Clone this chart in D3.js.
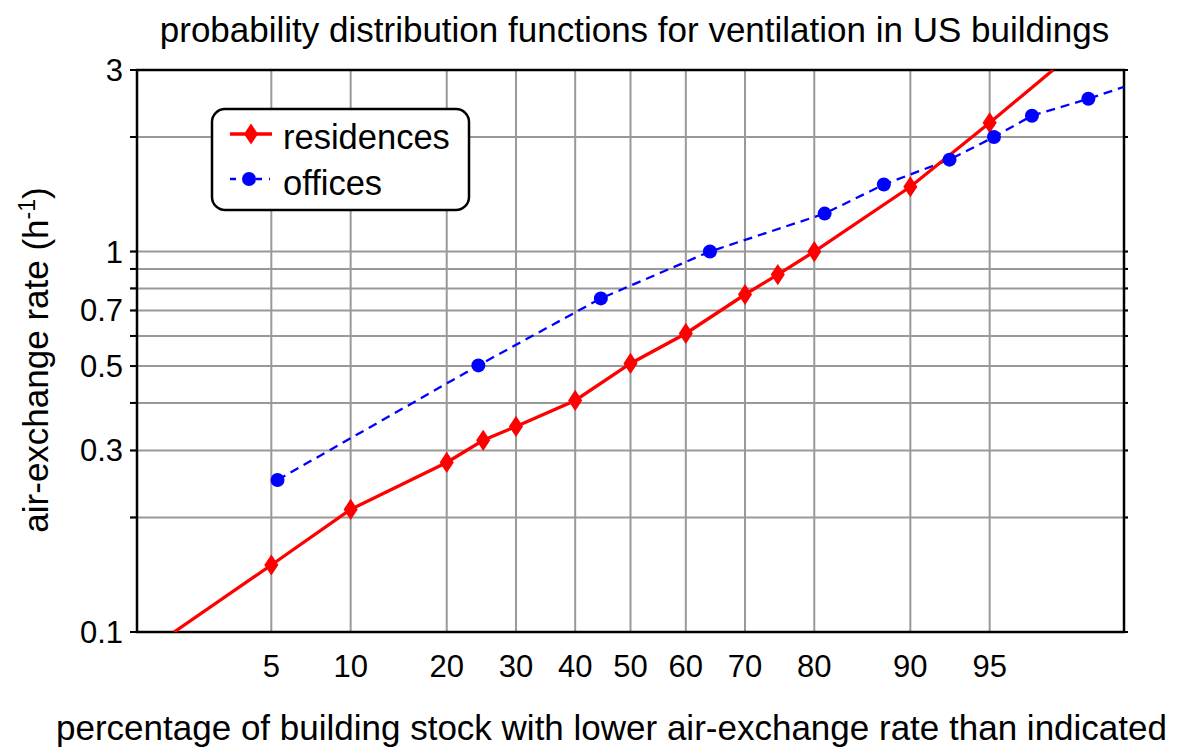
<!DOCTYPE html>
<html><head><meta charset="utf-8">
<script src="https://cdn.jsdelivr.net/npm/d3@7"></script>
<style>body{margin:0;background:#fff}svg{display:block}text{font-family:"Liberation Sans",Arial,sans-serif;fill:#000}</style>
</head><body>
<svg id="c" width="1178" height="747"></svg>
<script>
// ---- data ----
const xTicks = [5,10,20,30,40,50,60,70,80,90,95];
const yGrid = [0.2,0.3,0.4,0.5,0.6,0.7,0.8,0.9,1,2];
const yLabels = [0.1,0.3,0.5,0.7,1,3];
const resP = [5,10,20,25,30,40,50,60,70,75,80,90,95];
const resV = [0.150,0.210,0.279,0.319,0.347,0.406,0.508,0.609,0.771,0.870,1.0,1.48,2.18];
const resLead = [1.83, 0.1];   // line extension (no marker)
const resTail = [97.35, 3.0];
const offP = [5.3,24.3,44.6,64.2,81.3,87.7,92.8,95.2,96.7,98.2];
const offV = [0.251,0.502,0.753,1.0,1.258,1.50,1.744,2.0,2.275,2.52];
const offTail = [98.81, 2.71];

// inverse normal CDF (Acklam)
function probit(p){
  const a=[-3.969683028665376e+01,2.209460984245205e+02,-2.759285104469687e+02,1.383577518672690e+02,-3.066479806614716e+01,2.506628277459239e+00];
  const b=[-5.447609879822406e+01,1.615858368580409e+02,-1.556989798598866e+02,6.680131188771972e+01,-1.328068155288572e+01];
  const c=[-7.784894002430293e-03,-3.223964580411365e-01,-2.400758277161838e+00,-2.549732539343734e+00,4.374664141464968e+00,2.938163982698783e+00];
  const d=[7.784695709041462e-03,3.224671290700398e-01,2.445134137142996e+00,3.754408661907416e+00];
  const pl=0.02425, ph=1-pl; let q,r;
  if(p<pl){q=Math.sqrt(-2*Math.log(p));return (((((c[0]*q+c[1])*q+c[2])*q+c[3])*q+c[4])*q+c[5])/((((d[0]*q+d[1])*q+d[2])*q+d[3])*q+1);}
  if(p<=ph){q=p-0.5;r=q*q;return (((((a[0]*r+a[1])*r+a[2])*r+a[3])*r+a[4])*r+a[5])*q/(((((b[0]*r+b[1])*r+b[2])*r+b[3])*r+b[4])*r+1);}
  q=Math.sqrt(-2*Math.log(1-p));return -(((((c[0]*q+c[1])*q+c[2])*q+c[3])*q+c[4])*q+c[5])/((((d[0]*q+d[1])*q+d[2])*q+d[3])*q+1);
}

const L=137,R=1124,T=70,B=632;
const xz = d3.scaleLinear().domain([-2.26,2.26]).range([L,R]);
const x = p => xz(probit(p/100));
const y = d3.scaleLog().domain([0.1,3]).range([B,T]);
const svg = d3.select("#c");

svg.append("defs").append("clipPath").attr("id","clip").append("rect").attr("x",L).attr("y",T).attr("width",R-L).attr("height",B-T);

// grid
const g = svg.append("g");
g.selectAll(".vg").data(xTicks).join("line").attr("x1",d=>x(d)).attr("x2",d=>x(d)).attr("y1",T).attr("y2",B)
  .attr("stroke","#999").attr("stroke-width",2);
g.selectAll(".hg").data(yGrid).join("line").attr("x1",L-7).attr("x2",R+4).attr("y1",d=>y(d)).attr("y2",d=>y(d))
  .attr("stroke","#999").attr("stroke-width",2);
// ticks outside (black)
g.selectAll(".tl").data([0.1,...yGrid,3]).join("line").attr("x1",L-7).attr("x2",L).attr("y1",d=>y(d)).attr("y2",d=>y(d)).attr("stroke","#000").attr("stroke-width",2);
g.selectAll(".tr").data([0.1,...yGrid,3]).join("line").attr("x1",R).attr("x2",R+4).attr("y1",d=>y(d)).attr("y2",d=>y(d)).attr("stroke","#000").attr("stroke-width",2);
// frame
svg.append("rect").attr("x",L).attr("y",T).attr("width",R-L).attr("height",B-T).attr("fill","none").attr("stroke","#000").attr("stroke-width",2.5);

// tick labels
svg.selectAll(".xl").data(xTicks).join("text").attr("x",d=>x(d)).attr("y",677).attr("text-anchor","middle").attr("font-size",31).text(d=>d);
svg.selectAll(".yl").data(yLabels).join("text").attr("x",123).attr("y",d=>y(d)+11).attr("text-anchor","end").attr("font-size",31).text(d=>d);

// lines
const line = d3.line().x(d=>x(d[0])).y(d=>y(d[1]));
const plot = svg.append("g").attr("clip-path","url(#clip)");
const resLine = [resLead, ...resP.map((p,i)=>[p,resV[i]]), resTail];
const offLine = [...offP.map((p,i)=>[p,offV[i]]), offTail];
plot.append("path").datum(offLine).attr("d",line).attr("fill","none").attr("stroke","#0000ff").attr("stroke-width",2.3).attr("stroke-dasharray","9,6");
plot.append("path").datum(resLine).attr("d",line).attr("fill","none").attr("stroke","#ff0000").attr("stroke-width",3.3);
const diamond = d3.symbol().type(d3.symbolDiamond).size(130);
svg.selectAll(".rm").data(resP.map((p,i)=>[p,resV[i]])).join("path").attr("d",diamond)
  .attr("transform",d=>`translate(${x(d[0])},${y(d[1])}) scale(1.15,1)`).attr("fill","#ff0000");
svg.selectAll(".om").data(offP.map((p,i)=>[p,offV[i]])).join("circle").attr("cx",d=>x(d[0])).attr("cy",d=>y(d[1])).attr("r",7).attr("fill","#0000ff");

// legend
const lg = svg.append("g");
lg.append("rect").attr("x",212).attr("y",109).attr("width",257).attr("height",101).attr("rx",13).attr("fill","#fff").attr("stroke","#000").attr("stroke-width",2.5);
lg.append("line").attr("x1",230).attr("x2",272).attr("y1",134).attr("y2",134).attr("stroke","#ff0000").attr("stroke-width",3.3);
lg.append("path").attr("d",diamond).attr("transform","translate(251,134) scale(1.15,1)").attr("fill","#ff0000");
lg.append("line").attr("x1",230).attr("x2",270).attr("y1",179).attr("y2",179).attr("stroke","#0000ff").attr("stroke-width",2.3).attr("stroke-dasharray","6,7");
lg.append("circle").attr("cx",249).attr("cy",179).attr("r",7).attr("fill","#0000ff");
lg.append("text").attr("x",283).attr("y",149).attr("font-size",34.5).text("residences");
lg.append("text").attr("x",283).attr("y",195).attr("font-size",34.5).text("offices");

// titles
svg.append("text").attr("x",634.5).attr("y",42).attr("text-anchor","middle").attr("font-size",35).text("probability distribution functions for ventilation in US buildings");
svg.append("text").attr("x",611.5).attr("y",740).attr("text-anchor","middle").attr("font-size",35).text("percentage of building stock with lower air-exchange rate than indicated");
const yt = svg.append("text").attr("transform","translate(48,360) rotate(-90)").attr("text-anchor","middle").attr("font-size",35);
yt.append("tspan").text("air-exchange rate (h");
yt.append("tspan").attr("dy",-13).attr("font-size",23).text("-1");
yt.append("tspan").attr("dy",13).text(")");
</script>
</body></html>
